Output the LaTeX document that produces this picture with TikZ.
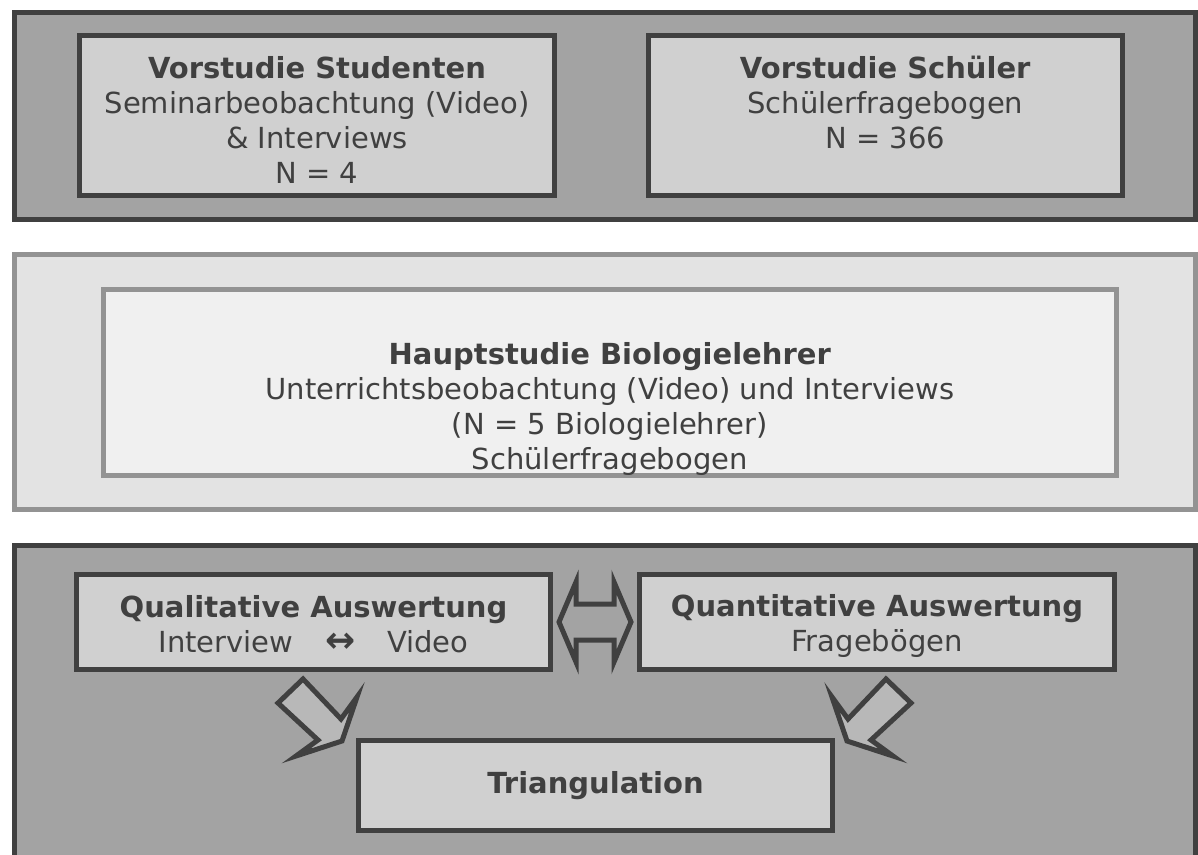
\documentclass[tikz,border=0pt]{standalone}
\usepackage{fontspec}
\setmainfont{DejaVu Sans}
\definecolor{darkline}{HTML}{404040}
\definecolor{panelcol}{HTML}{A3A3A3}
\definecolor{boxcol}{HTML}{D0D0D0}
\definecolor{lightline}{HTML}{939393}
\definecolor{lightpanelcol}{HTML}{E3E3E3}
\definecolor{lightboxcol}{HTML}{F0F0F0}
\definecolor{arrowcol}{HTML}{B8B8B8}
\newcommand{\topstrut}[1]{\rule{0pt}{#1}}
\tikzstyle{panel}=[draw=darkline, fill=panelcol, line width=5pt]
\tikzstyle{studybox}=[draw=darkline, fill=boxcol, line width=5pt, inner sep=0pt,
  align=center, text=darkline, font=\fontsize{29}{35}\selectfont]
\tikzstyle{mainbox}=[studybox, draw=lightline, fill=lightboxcol]
\tikzstyle{blockarrow}=[draw=darkline, fill=arrowcol, line width=5pt, line join=miter]

\begin{document}
\begin{tikzpicture}[x=1pt, y=-1pt]
\useasboundingbox (0,0) rectangle (1198,854);
% Panels
    \draw[panel] (14.5,12.5) rectangle (1195,219.5);
    \draw[panel, draw=lightline, fill=lightpanelcol] (14.5,254.5) rectangle (1195,509.5);
    \draw[panel] (14.5,545.5) rectangle (1195,900);
% Vorstudien
  \node[studybox, minimum width=475pt, minimum height=160pt] (studenten) at (317,115.5)
    {\topstrut{30pt}\textbf{Vorstudie Studenten}\\Seminarbeobachtung (Video)\\\& Interviews\\N = 4};
  \node[studybox, minimum width=473.5pt, minimum height=160pt] (schueler) at (885.25,115.5)
    {\topstrut{30pt}\textbf{Vorstudie Schüler}\\Schülerfragebogen\\N = 366\\\mbox{}};
% Hauptstudie
  \node[mainbox, minimum width=1013.5pt, minimum height=183.5pt] (haupt) at (609.75,382.25)
    {\topstrut{40pt}\\\textbf{Hauptstudie Biologielehrer}\\Unterrichtsbeobachtung (Video) und Interviews\\(N = 5 Biologielehrer)\\Schülerfragebogen};
% Auswertung
  \node[studybox, minimum width=474pt, minimum height=95pt] (quali) at (313.5,622)
    {\topstrut{26pt}\textbf{Qualitative Auswertung}\\Interview\hspace{1.1em}{\fontsize{36}{35}\selectfont\textbf{↔}}\hspace{1.1em}Video};
  \node[studybox, minimum width=475pt, minimum height=95pt] (quanti) at (877,622)
    {\topstrut{30pt}\textbf{Quantitative Auswertung}\\Fragebögen};
  \node[studybox, minimum width=474pt, minimum height=90pt] (triang) at (595.5,785.5)
    {\textbf{Triangulation}};
% Arrows
    \draw[blockarrow, fill=panelcol] (559,622) -- (576,582) -- (576,604) -- (614,604) -- (614,582)
      -- (631,622) -- (614,662) -- (614,640) -- (576,640) -- (576,662) -- cycle;
    \draw[blockarrow] (303,679) -- (278,703) -- (318,740) -- (296,756) -- (342,741)
      -- (357,697) -- (341,719) -- cycle;
    \draw[blockarrow] (886,679) -- (911,703) -- (871,740) -- (893,756) -- (847,741)
      -- (832,697) -- (848,719) -- cycle;
\end{tikzpicture}
\end{document}
